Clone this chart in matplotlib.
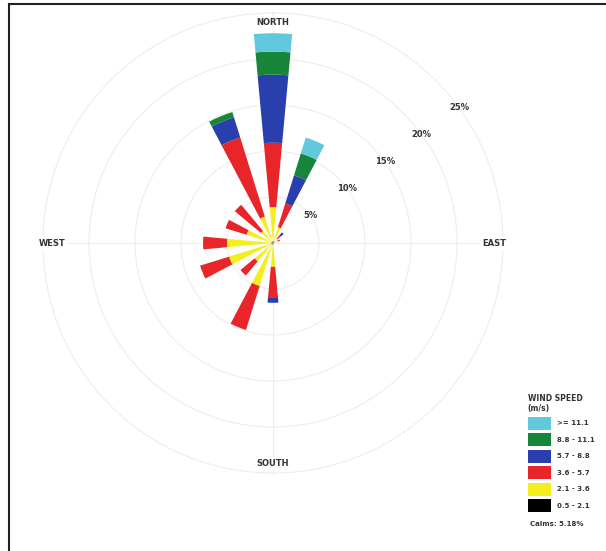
"""
Wind rose - frequency of wind direction by speed class (16 sectors)
"""

import numpy as np
import matplotlib.pyplot as plt
from matplotlib.patches import Patch
from matplotlib.lines import Line2D


directions = ['N', 'NNE', 'NE', 'ENE', 'E', 'ESE', 'SE', 'SSE',
              'S', 'SSW', 'SW', 'WSW', 'W', 'WNW', 'NW', 'NNW']

# frequency (%) in each speed class, per direction
freq_05_21 = [0.2, 0.2, 0.2, 0.2, 0.1, 0.0, 0.0, 0.1, 0.2, 0.2, 0.2, 0.2, 0.2, 0.2, 0.2, 0.2]
freq_21_36 = [3.7, 1.6, 0.4, 0.3, 0.0, 0.0, 0.0, 0.0, 2.4, 4.7, 2.4, 4.8, 4.8, 2.8, 1.5, 2.8]
freq_36_57 = [7.0, 2.7, 0.5, 0.3, 0.0, 0.0, 0.0, 0.0, 3.3, 5.0, 2.0, 3.3, 2.6, 2.4, 3.7, 9.0]
freq_57_88 = [7.4, 3.2, 0.4, 0.0, 0.0, 0.0, 0.0, 0.0, 0.6, 0.0, 0.0, 0.0, 0.0, 0.0, 0.0, 2.3]
freq_88_111 = [2.5, 2.5, 0.0, 0.0, 0.0, 0.0, 0.0, 0.0, 0.0, 0.0, 0.0, 0.0, 0.0, 0.0, 0.0, 0.6]
freq_111 = [2.0, 1.8, 0.0, 0.0, 0.0, 0.0, 0.0, 0.0, 0.0, 0.0, 0.0, 0.0, 0.0, 0.0, 0.0, 0.0]

speed_labels = ['0.5 - 2.1', '2.1 - 3.6', '3.6 - 5.7', '5.7 - 8.8', '8.8 - 11.1', '>= 11.1']
speed_colors = ['#000000', '#f4ee1c', '#e8262a', '#2a3fae', '#17863a', '#62c8dc']
calms = 5.18

ring_values = [5, 10, 15, 20, 25]
compass_labels = ['NORTH', 'EAST', 'SOUTH', 'WEST']


fig = plt.figure(figsize=(6.06, 5.51), dpi=100)

rmax = 25.3
rad_px = 230 * rmax / 25
cx, cy = 273, 551 - 243
ax = fig.add_axes([(cx - rad_px) / 606, (cy - rad_px) / 551,
                   2 * rad_px / 606, 2 * rad_px / 551], projection='polar')
ax.set_theta_zero_location('N')
ax.set_theta_direction(-1)
ax.set_ylim(0, rmax)

theta = np.deg2rad(np.arange(len(directions)) * 22.5)
width = np.deg2rad(10.5)

series = [freq_05_21, freq_21_36, freq_36_57, freq_57_88, freq_88_111, freq_111]
bottom = np.zeros(len(directions))
for vals, col in zip(series, speed_colors):
    vals = np.array(vals)
    ax.bar(theta, vals, width=width, bottom=bottom, color=col,
           edgecolor='none', linewidth=0, zorder=3)
    bottom += vals

# rings and cross lines (very faint)
ax.set_rticks(ring_values)
ax.set_yticklabels([])
ax.set_thetagrids([0, 90, 180, 270], labels=[])
ax.grid(True, color='#ededed', linewidth=0.8)
ax.spines['polar'].set_visible(False)
ax.set_facecolor('white')

for r in ring_values:
    ax.text(np.deg2rad(54), r, f'{r}%', fontsize=6, fontweight='bold',
            color='#333333', ha='center', va='center', zorder=4)

for lab, ang in zip(compass_labels, [0, 90, 180, 270]):
    ax.text(np.deg2rad(ang), 24.0, lab, fontsize=6, fontweight='bold',
            color='#333333', ha='center', va='center', zorder=4,
            bbox=dict(facecolor='white', edgecolor='none', pad=1.5))

# legend, fastest class on top
handles = [Patch(facecolor=c, edgecolor='none') for c in speed_colors[::-1]]
leg = fig.legend(handles, speed_labels[::-1], title='WIND SPEED\n(m/s)',
                 loc='upper left', bbox_to_anchor=(523 / 606, 1 - 389 / 551),
                 frameon=False, fontsize=5, title_fontsize=5.5,
                 handlelength=3.4, handleheight=2.5, labelspacing=0.5,
                 handletextpad=0.8, borderpad=0.2, alignment='left')
leg.get_title().set_fontweight('bold')
leg.get_title().set_color('#333333')
for t in leg.get_texts():
    t.set_fontweight('bold')
    t.set_color('#333333')

fig.text(530 / 606, 1 - 524 / 551, f'Calms: {calms:.2f}%', fontsize=5,
         fontweight='bold', color='#333333', ha='left', va='center')

# page frame
fig.add_artist(Line2D([8.5 / 606, 8.5 / 606], [0, 1 - 4 / 551], color='#222222', linewidth=1.5))
fig.add_artist(Line2D([8.5 / 606, 1], [1 - 4 / 551, 1 - 4 / 551], color='#222222', linewidth=1.5))

fig.savefig('out.png', dpi=100)
